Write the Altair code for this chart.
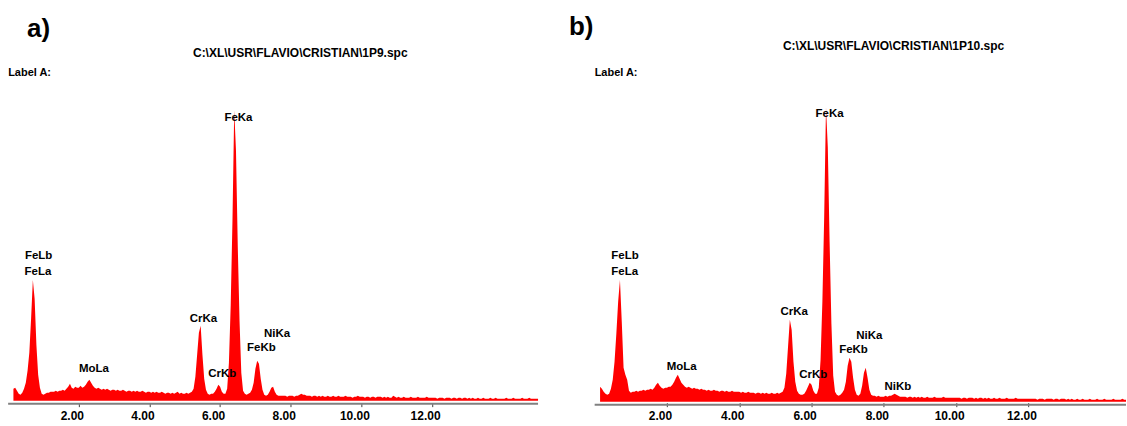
import altair as alt
import numpy as np
import pandas as pd

# ---------------- data ----------------
E_START = 0.15      # keV of first channel
E_STEP = 0.05       # keV per channel

# panel a) 1P9 : counts (arbitrary units) per channel, 0.15 keV .. 15.00 keV
counts_a = (
    [12, 13, 10, 7, 6, 8, 12, 18, 30, 48, 82, 121, 102, 56, 26, 13, 7]
    + [6, 7, 8, 8, 9, 9, 9, 10, 9, 10, 10, 11, 10, 12, 14, 17, 13, 12, 14, 13]
    + [13, 15, 13, 14, 16, 19, 21, 18, 15, 13, 12, 13, 12, 11, 12, 11, 12, 11, 10, 11]
    + [11, 10, 11, 10, 10, 11, 10, 9, 10, 10, 9, 10, 9, 10, 9, 9, 10, 9, 8, 9]
    + [9, 8, 9, 8, 9, 8, 8, 9, 8, 7, 8, 8, 7, 8, 7, 8, 9, 7, 8, 7]
    + [7, 8, 7, 8, 9, 12, 24, 46, 68, 75, 46, 22, 11, 7, 6, 7, 7, 9, 12, 16]
    + [14, 9, 7, 7, 12, 38, 95, 180, 291, 250, 155, 80, 28, 10, 7, 6, 7, 8, 11, 18]
    + [32, 40, 37, 22, 11, 6, 5, 6, 9, 13, 14, 9, 6, 5, 5, 5, 5, 5, 4, 5]
    + [5, 5, 4, 5, 5, 6, 7, 6, 6, 5, 5, 5, 4, 5, 5, 4, 5, 4, 5, 4]
    + [4, 5, 4, 4, 5, 4, 4, 5, 4, 4, 4, 5, 4, 4, 4, 3, 4, 4, 5, 4]
    + [4, 4, 3, 4, 4, 3, 4, 4, 3, 4, 4, 4, 3, 4, 3, 4, 3, 3, 5, 4]
    + [3, 4, 3, 3, 4, 3, 3, 3, 4, 3, 3, 3, 4, 3, 3, 3, 3, 4, 3, 3]
    + [3, 3, 3, 2, 3, 3, 3, 2, 3, 3, 3, 2, 3, 3, 2, 3, 3, 2, 3, 3]
    + [2, 3, 2, 3, 2, 2, 3, 2, 2, 3, 2, 2, 2, 3, 2, 2, 3, 2, 2, 2]
    + [2, 2, 3, 2, 2, 2, 3, 2, 2, 2, 2, 3, 2, 2, 2, 3, 2, 2, 2, 2, 2]
)

# panel b) 1P10 : counts per channel, 0.15 keV .. 14.70 keV
counts_b = (
    [15, 13, 10, 8, 7, 8, 13, 22, 40, 68, 100, 122, 80, 34, 27, 22, 11]
    + [9, 10, 10, 11, 10, 11, 11, 12, 11, 12, 12, 13, 12, 14, 17, 19, 16, 14, 13, 14]
    + [14, 15, 15, 17, 20, 24, 27, 23, 19, 17, 15, 14, 15, 14, 13, 14, 13, 13, 12, 13]
    + [12, 12, 11, 12, 11, 11, 12, 11, 11, 10, 11, 11, 10, 11, 10, 10, 11, 10, 10, 10]
    + [10, 9, 10, 9, 9, 10, 9, 9, 9, 8, 9, 9, 8, 9, 8, 9, 8, 8, 9, 8]
    + [8, 9, 8, 9, 10, 14, 28, 55, 82, 72, 40, 20, 11, 8, 7, 7, 8, 11, 15, 19]
    + [17, 11, 8, 8, 14, 42, 100, 185, 295, 255, 160, 78, 26, 10, 7, 6, 7, 9, 12, 20]
    + [36, 44, 40, 24, 12, 7, 6, 8, 16, 29, 34, 24, 12, 7, 6, 6, 5, 6, 5, 5]
    + [5, 6, 5, 6, 6, 7, 8, 7, 6, 5, 5, 5, 5, 4, 5, 5, 4, 5, 4, 5]
    + [4, 5, 4, 4, 5, 4, 4, 4, 5, 4, 4, 4, 4, 5, 4, 4, 4, 4, 4, 4]
    + [4, 4, 4, 3, 4, 4, 3, 4, 4, 4, 3, 4, 3, 4, 4, 3, 4, 3, 4, 3]
    + [3, 4, 3, 3, 4, 3, 3, 3, 4, 3, 3, 3, 3, 4, 3, 3, 3, 3, 3, 3]
    + [3, 3, 3, 3, 3, 2, 3, 3, 3, 2, 3, 3, 3, 3, 2, 3, 3, 2, 3, 3]
    + [3, 2, 3, 2, 3, 2, 2, 3, 2, 2, 3, 2, 2, 2, 3, 2, 2, 2, 3, 2]
    + [2, 2, 3, 2, 2, 2, 2, 3, 2, 2, 2, 2, 3, 2, 2]
)

# peak labels
peak_text_a = ["FeLb", "FeLa", "MoLa", "CrKa", "CrKb", "FeKa", "FeKb", "NiKa"]
peak_x_a = [0.864, 0.845, 2.43, 5.53, 6.06, 6.52, 7.17, 7.61]
peak_y_a = [145, 129, 32, 82, 27, 283, 53, 67]

peak_text_b = ["FeLb", "FeLa", "MoLa", "CrKa", "CrKb", "FeKa", "FeKb", "NiKa", "NiKb"]
peak_x_b = [0.84, 0.83, 2.41, 5.52, 6.05, 6.50, 7.16, 7.60, 8.39]
peak_y_b = [146, 130, 35, 90, 27, 288, 52, 66, 15]

titles = ["C:\\XL\\USR\\FLAVIO\\CRISTIAN\\1P9.spc", "C:\\XL\\USR\\FLAVIO\\CRISTIAN\\1P10.spc"]
letters = ["a)", "b)"]
tick_values = [2, 4, 6, 8, 10, 12]

RED = "#ff0000"
FONT = "Liberation Sans"


def panel(counts, ptext, px, py, letter, title, xdom, ydom, width,
          letter_pos, title_pos, labA_pos, axis_end):
    energies = np.round(E_START + E_STEP * np.arange(len(counts)), 2)
    spec = pd.DataFrame({"energy": energies, "counts": counts, "zero": 0})
    xscale = alt.Scale(domain=xdom, nice=False, zero=False)
    yscale = alt.Scale(domain=ydom, nice=False, zero=False)
    xaxis = alt.Axis(values=tick_values, format=".2f", domain=False, grid=False,
                     tickColor="#404040", tickSize=4, tickWidth=1, offset=2,
                     labelFont=FONT, labelFontSize=12, labelFontWeight="bold",
                     labelColor="black", labelPadding=4, labelOffset=-7, title=None)

    def X(f):
        return alt.X(f, scale=xscale, axis=xaxis)

    def Y(f):
        return alt.Y(f, scale=yscale, axis=None)

    area = alt.Chart(spec).mark_area(color=RED, interpolate="linear").encode(
        x=X("energy:Q"), y=Y("counts:Q"), y2="zero:Q")

    peaks = pd.DataFrame({"x": px, "y": py, "t": ptext})
    ptxt = alt.Chart(peaks).mark_text(font=FONT, fontSize=11.5, fontWeight="bold",
                                      color="black", align="center",
                                      baseline="middle").encode(
        x=X("x:Q"), y=Y("y:Q"), text="t:N")

    head = pd.DataFrame({"x": [title_pos[0]], "y": [title_pos[1]], "t": [title]})
    htxt = alt.Chart(head).mark_text(font=FONT, fontSize=12, fontWeight="bold",
                                     color="black", align="center",
                                     baseline="middle").encode(
        x=X("x:Q"), y=Y("y:Q"), text="t:N")

    lab = pd.DataFrame({"x": [labA_pos[0]], "y": [labA_pos[1]], "t": ["Label A:"]})
    ltxt = alt.Chart(lab).mark_text(font=FONT, fontSize=11, fontWeight="bold",
                                    color="black", align="left", baseline="middle").encode(
        x=X("x:Q"), y=Y("y:Q"), text="t:N")

    let = pd.DataFrame({"x": [letter_pos[0]], "y": [letter_pos[1]], "t": [letter]})
    lettxt = alt.Chart(let).mark_text(font=FONT, fontSize=26, fontWeight="bold",
                                      color="black", align="left", baseline="middle").encode(
        x=X("x:Q"), y=Y("y:Q"), text="t:N")

    axl = pd.DataFrame({"x": [0.0], "x2": [axis_end], "y": [-3]})
    rule = alt.Chart(axl).mark_rule(color="#808080", strokeWidth=2).encode(
        x=X("x:Q"), x2="x2:Q", y=Y("y:Q"))

    return alt.layer(area, rule, lettxt, htxt, ltxt, ptxt).properties(
        width=width, height=401)


left = panel(counts_a, peak_text_a, peak_x_a, peak_y_a, letters[0], titles[0],
             [-0.23, 15.0], [0, 401], 539,
             (0.534, 372), (8.27, 348), (0.0, 328), 15.0)
right = panel(counts_b, peak_text_b, peak_x_b, peak_y_b, letters[1], titles[1],
              [-0.9586, 14.70], [1, 402], 567,
              (-0.71, 375), (8.27, 356), (0.0, 329), 14.70)

chart = alt.hconcat(left, right, spacing=21).properties(
    padding=0, background="white"
).configure_view(stroke=None)

chart.save("out.html", embed_options={"renderer": "svg", "actions": False})
